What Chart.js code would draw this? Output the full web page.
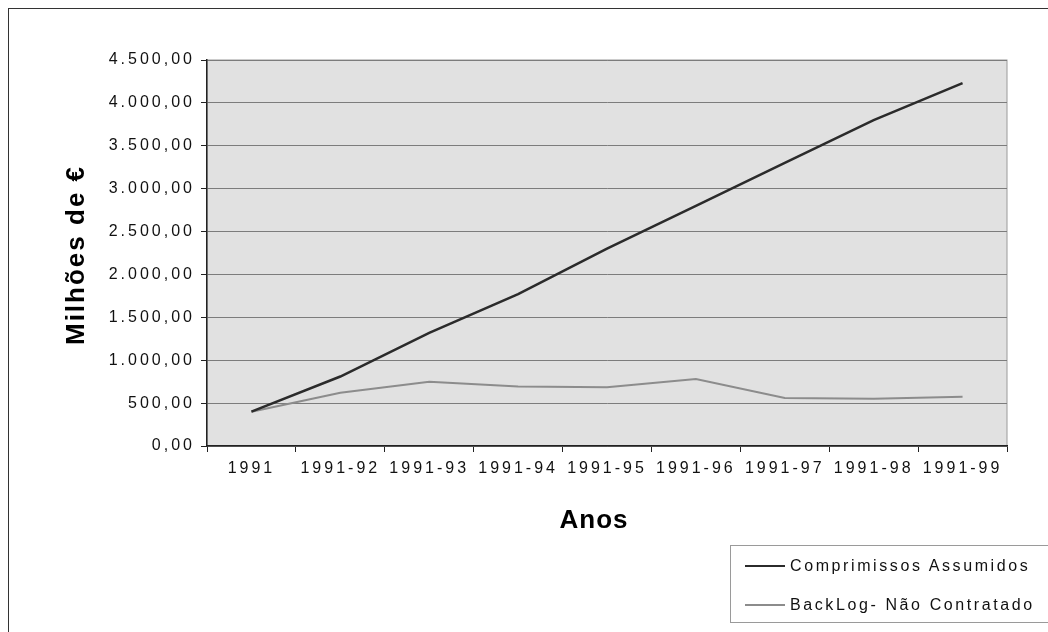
<!DOCTYPE html>
<html>
<head>
<meta charset="utf-8">
<script src="https://cdn.jsdelivr.net/npm/chart.js"></script>
<style>
  html, body { margin: 0; padding: 0; background: #fff; }
  #wrap { position: relative; width: 1048px; height: 632px; overflow: hidden; }
  #frame { position: absolute; left: 8px; top: 8px; width: 1100px; height: 700px; border: 1.5px solid #333; box-sizing: border-box; }
  #legend {
    position: absolute; left: 730px; top: 545px; width: 340px; height: 78px;
    border: 1px solid #9a9a9a; box-sizing: border-box;
    font-family: "Liberation Sans", Arial, sans-serif; font-size: 16px; letter-spacing: 2.6px; color: #111;
  }
  .item { position: absolute; left: 14px; height: 20px; display: flex; align-items: center; }
  .swatch { width: 40px; height: 0; margin-right: 5px; }
</style>
</head>
<body>
<div id="wrap">
  <div id="frame"></div>
  <canvas id="chart" width="1048" height="632"></canvas>
  <div id="legend"></div>
</div>
<script>
// Données
const categories = ['1991', '1991-92', '1991-93', '1991-94', '1991-95', '1991-96', '1991-97', '1991-98', '1991-99'];
const compromissos = [400, 810, 1320, 1770, 2300, 2800, 3300, 3800, 4230];
const backlog = [400, 620, 750, 695, 685, 780, 560, 550, 575];
const seriesNames = ['Comprimissos Assumidos', 'BackLog- Não Contratado'];
const seriesColors = ['#2b2b2b', '#8c8c8c'];
const seriesWidths = [2.5, 2];

const yMin = 0, yMax = 4500, yStep = 500;

function formatPt(v) {
    // 4500 -> "4.500,00"
    const parts = v.toFixed(2).split('.');
    const intPart = parts[0].replace(/\B(?=(\d{3})+(?!\d))/g, '.');
    return intPart + ',' + parts[1];
}

const frameAndTitles = {
    id: 'frameAndTitles',
    beforeLayout(chart) {
        chart.ctx.letterSpacing = '3px';
    },
    beforeDraw(chart) {
        const ctx = chart.ctx;
        const a = chart.chartArea;
        ctx.save();
        ctx.fillStyle = '#e1e1e1';
        ctx.fillRect(a.left, a.top, a.right - a.left, a.bottom - a.top);
        ctx.strokeStyle = '#9a9a9a';
        ctx.lineWidth = 1;
        ctx.strokeRect(a.left, a.top, a.right - a.left, a.bottom - a.top);
        ctx.restore();
        ctx.letterSpacing = '3px';
    },
    afterDraw(chart) {
        const ctx = chart.ctx;
        ctx.save();
        ctx.fillStyle = '#000';
        ctx.textAlign = 'center';
        ctx.textBaseline = 'middle';
        ctx.letterSpacing = '1px';
        ctx.font = 'bold 26px "Liberation Sans", Arial, sans-serif';
        ctx.fillText('Anos', 594, 521);
        ctx.translate(77, 255);
        ctx.rotate(-Math.PI / 2);
        ctx.letterSpacing = '2px';
        ctx.fillText('Milhões de €', 0, 0);
        ctx.restore();
    }
};

const ctx = document.getElementById('chart').getContext('2d');
const chart = new Chart(ctx, {
    type: 'line',
    data: {
        labels: categories,
        datasets: [
            {
                label: seriesNames[0],
                data: compromissos,
                borderColor: seriesColors[0],
                backgroundColor: seriesColors[0],
                borderWidth: seriesWidths[0],
                pointRadius: 0,
                tension: 0,
                fill: false
            },
            {
                label: seriesNames[1],
                data: backlog,
                borderColor: seriesColors[1],
                backgroundColor: seriesColors[1],
                borderWidth: seriesWidths[1],
                pointRadius: 0,
                tension: 0,
                fill: false
            }
        ]
    },
    options: {
        responsive: false,
        animation: false,
        devicePixelRatio: 1,
        layout: { padding: { left: 0, top: 60, right: 41, bottom: 0 } },
        plugins: {
            legend: { display: false },
            tooltip: { enabled: false }
        },
        scales: {
            x: {
                offset: true,
                grid: {
                    offset: true,
                    drawOnChartArea: false,
                    drawTicks: true,
                    tickLength: 6,
                    color: '#222',
                    lineWidth: 1
                },
                border: { color: '#222', width: 1.5 },
                ticks: {
                    color: '#111',
                    padding: 7,
                    maxRotation: 0,
                    autoSkip: false,
                    font: { family: '"Liberation Sans", Arial, sans-serif', size: 16 }
                },
                afterFit(scale) { scale.height = 632 - 446; }
            },
            y: {
                min: yMin,
                max: yMax,
                grid: {
                    color: '#7c7c7c',
                    lineWidth: 1,
                    tickLength: 6,
                    tickColor: '#222'
                },
                border: { color: '#222', width: 1.5 },
                ticks: {
                    stepSize: yStep,
                    color: '#111',
                    padding: 6,
                    font: { family: '"Liberation Sans", Arial, sans-serif', size: 16 },
                    callback: function(value) { return formatPt(value); }
                },
                afterFit(scale) { scale.width = 207; }
            }
        }
    },
    plugins: [frameAndTitles]
});

// Légende HTML à partir des datasets
const legend = document.getElementById('legend');
seriesNames.forEach(function(name, i) {
    const item = document.createElement('div');
    item.className = 'item';
    item.style.top = (i === 0 ? 10 : 49) + 'px';
    const sw = document.createElement('span');
    sw.className = 'swatch';
    sw.style.borderTop = seriesWidths[i] + 'px solid ' + seriesColors[i];
    const txt = document.createElement('span');
    txt.textContent = name;
    item.appendChild(sw);
    item.appendChild(txt);
    legend.appendChild(item);
});
</script>
</body>
</html>
